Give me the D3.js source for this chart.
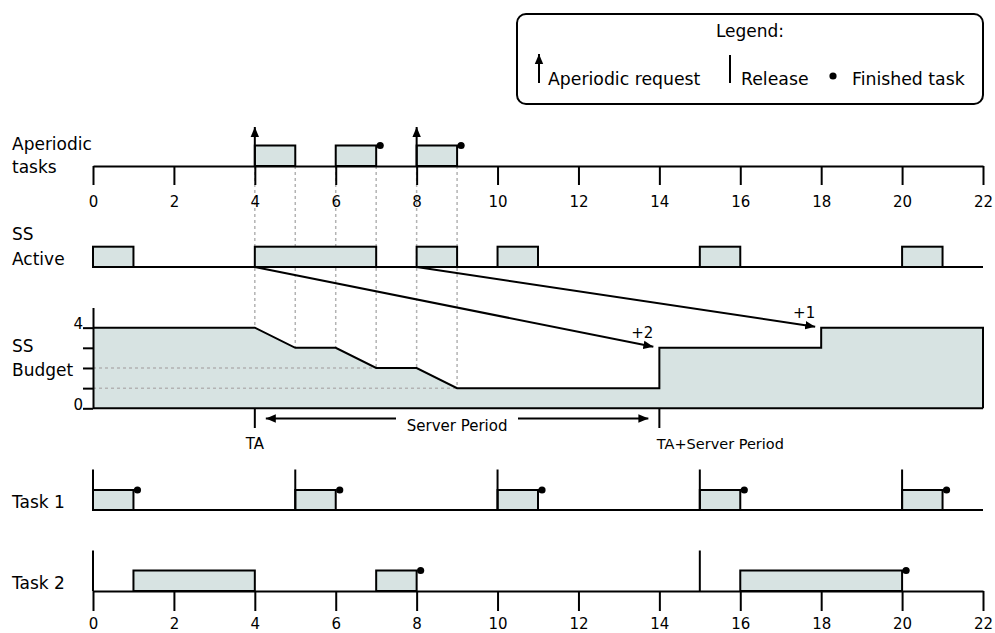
<!DOCTYPE html>
<html>
<head>
<meta charset="utf-8">
<script src="https://cdn.jsdelivr.net/npm/d3@7"></script>
<style>
  html, body { margin: 0; padding: 0; background: #fff; }
  svg { display: block; font-family: "DejaVu Sans", sans-serif; }
</style>
</head>
<body>
<svg id="chart" width="995" height="633"></svg>
<script>
// ---------------- DATA ----------------
const timeTicks = [0, 2, 4, 6, 8, 10, 12, 14, 16, 18, 20, 22];
const aperiodicJobs = [[4, 5], [6, 7], [8, 9]];
const aperiodicRequests = [4, 8];
const aperiodicFinished = [7, 9];
const ssActiveSlots = [[0, 1], [4, 7], [8, 9], [10, 11], [15, 16], [20, 21]];
const budgetTimes  = [0, 4, 5, 6, 7, 8, 9, 14, 14, 18, 18, 22];
const budgetValues = [4, 4, 3, 3, 2, 2, 1, 1, 3, 3, 4, 4];
const budgetTicks = [0, 1, 2, 3, 4];
const budgetTickLabels = ["0", "", "", "", "4"];
const dashedTimes = [4, 5, 6, 7, 8, 9];
const dashedLevels = [2, 1];          // horizontal guide levels
const dashedLevelEnds = [7, 9];       // time where each guide ends
const replenishFrom = [4, 8];
const replenishTo = [14, 18];
const replenishLevel = [3, 4];
const replenishLabels = ["+2", "+1"];
const task1Releases = [0, 5, 10, 15, 20];
const task1Jobs = [[0, 1], [5, 6], [10, 11], [15, 16], [20, 21]];
const task1Finished = [1, 6, 11, 16, 21];
const task2Releases = [0, 15];
const task2Jobs = [[1, 4], [7, 8], [16, 20]];
const task2Finished = [8, 20];
const periodStart = 4, periodEnd = 14;
const rowLabels = [
  ["Aperiodic", "tasks"], ["SS", "Active"], ["SS", "Budget"], ["Task 1"], ["Task 2"]
];
const legendItems = ["Aperiodic request", "Release", "Finished task"];

// ---------------- LAYOUT ----------------
const svg = d3.select("#chart");
const FILL = "#d7e3e2";
const SW = 2;
const x = d3.scaleLinear().domain([0, 22]).range([93, 983]);
const yB = d3.scaleLinear().domain([0, 5]).range([408.3, 307.5]);

const rows = {
  aper: { base: 166, top: 145.5 },
  ss:   { base: 267, top: 246.7 },
  t1:   { base: 510, top: 490 },
  t2:   { base: 591, top: 570.5 }
};

// markers
const defs = svg.append("defs");
defs.append("marker").attr("id", "arrow")
  .attr("viewBox", "0 -5 10 10").attr("refX", 10).attr("refY", 0)
  .attr("markerWidth", 10).attr("markerHeight", 10)
  .attr("markerUnits", "userSpaceOnUse").attr("orient", "auto")
  .append("path").attr("d", "M0,-4.2L10,0L0,4.2Z").attr("fill", "#000");

// ---------------- dashed guides ----------------
const gGuides = svg.append("g");
const budgetAt = t => budgetValues[budgetTimes.indexOf(t)];
gGuides.selectAll("line.v").data(dashedTimes).join("line")
  .attr("x1", d => x(d)).attr("x2", d => x(d))
  .attr("y1", rows.aper.base).attr("y2", d => yB(budgetAt(d)))
  .attr("stroke", "#b3b3b3").attr("stroke-width", 1.5).attr("stroke-dasharray", "3,3");

// ---------------- Aperiodic row ----------------
const gA = svg.append("g");
gA.selectAll("rect").data(aperiodicJobs).join("rect")
  .attr("x", d => x(d[0])).attr("y", rows.aper.top)
  .attr("width", d => x(d[1]) - x(d[0])).attr("height", rows.aper.base - rows.aper.top)
  .attr("fill", FILL).attr("stroke", "#000").attr("stroke-width", SW);
gA.append("g").attr("transform", `translate(0,${rows.aper.base})`)
  .call(d3.axisBottom(x).tickValues(timeTicks).tickFormat(d3.format("d"))
    .tickSize(19).tickSizeOuter(0).tickPadding(11))
  .call(g => g.selectAll("path,line").attr("stroke", "#000").attr("stroke-width", SW))
  .call(g => g.selectAll("text").attr("font-size", 15).attr("font-family", "DejaVu Sans").attr("fill", "#000"));
gA.selectAll("line.req").data(aperiodicRequests).join("line")
  .attr("x1", d => x(d)).attr("x2", d => x(d))
  .attr("y1", rows.aper.base).attr("y2", 127)
  .attr("stroke", "#000").attr("stroke-width", SW).attr("marker-end", "url(#arrow)");
gA.selectAll("circle").data(aperiodicFinished).join("circle")
  .attr("cx", d => x(d) + 4).attr("cy", rows.aper.top).attr("r", 3.6).attr("fill", "#000");

// ---------------- SS Active row ----------------
const gS = svg.append("g");
gS.selectAll("rect").data(ssActiveSlots).join("rect")
  .attr("x", d => x(d[0])).attr("y", rows.ss.top)
  .attr("width", d => x(d[1]) - x(d[0])).attr("height", rows.ss.base - rows.ss.top)
  .attr("fill", FILL).attr("stroke", "#000").attr("stroke-width", SW);
gS.append("line").attr("x1", x(0)).attr("x2", x(22))
  .attr("y1", rows.ss.base).attr("y2", rows.ss.base)
  .attr("stroke", "#000").attr("stroke-width", SW);

// ---------------- Budget ----------------
const gB = svg.append("g");
const bData = budgetTimes.map((t, i) => [t, budgetValues[i]]);
gB.append("path").datum(bData)
  .attr("d", d3.area().x(d => x(d[0])).y0(yB(0)).y1(d => yB(d[1])))
  .attr("fill", FILL);
gB.selectAll("line.h").data(dashedLevels).join("line")
  .attr("x1", x(0)).attr("x2", (d, i) => x(dashedLevelEnds[i]))
  .attr("y1", d => yB(d)).attr("y2", d => yB(d))
  .attr("stroke", "#b3b3b3").attr("stroke-width", 1.5).attr("stroke-dasharray", "3,3");
gB.append("path").datum(bData.concat([[22, 0]]))
  .attr("d", d3.line().x(d => x(d[0])).y(d => yB(d[1])))
  .attr("fill", "none").attr("stroke", "#000").attr("stroke-width", SW);
gB.append("line").attr("x1", x(0)).attr("x2", x(22))
  .attr("y1", yB(0)).attr("y2", yB(0)).attr("stroke", "#000").attr("stroke-width", SW);
gB.append("g").attr("transform", `translate(${x(0)},0)`)
  .call(d3.axisLeft(yB).tickValues(budgetTicks).tickFormat((d, i) => budgetTickLabels[i])
    .tickSize(10).tickSizeOuter(0).tickPadding(0))
  .call(g => g.selectAll("path,line").attr("stroke", "#000").attr("stroke-width", SW))
  .call(g => g.selectAll("text").attr("font-size", 15).attr("font-family", "DejaVu Sans")
    .attr("fill", "#000").attr("dy", "0.05em"));

// replenishment arrows
replenishFrom.forEach((f, i) => {
  const tx = x(replenishTo[i]) - 6, ty = yB(replenishLevel[i]) - 1;
  svg.append("line").attr("x1", x(f)).attr("y1", rows.ss.base).attr("x2", tx).attr("y2", ty)
    .attr("stroke", "#000").attr("stroke-width", SW).attr("marker-end", "url(#arrow)");
  svg.append("text").attr("x", tx - 11).attr("y", ty - 8.5)
    .attr("text-anchor", "middle").attr("font-size", 15).text(replenishLabels[i]);
});

// server period annotation
const gP = svg.append("g");
[periodStart, periodEnd].forEach(t => {
  gP.append("line").attr("x1", x(t)).attr("x2", x(t)).attr("y1", yB(0)).attr("y2", 428)
    .attr("stroke", "#000").attr("stroke-width", SW);
});
gP.append("line").attr("x1", 396).attr("x2", x(periodStart) + 11).attr("y1", 418.5).attr("y2", 418.5)
  .attr("stroke", "#000").attr("stroke-width", SW).attr("marker-end", "url(#arrow)");
gP.append("line").attr("x1", 518).attr("x2", x(periodEnd) - 11).attr("y1", 418.5).attr("y2", 418.5)
  .attr("stroke", "#000").attr("stroke-width", SW).attr("marker-end", "url(#arrow)");
gP.append("text").attr("x", (x(periodStart) + x(periodEnd)) / 2).attr("y", 431)
  .attr("text-anchor", "middle").attr("font-size", 15).text("Server Period");
gP.append("text").attr("x", x(periodStart)).attr("y", 449)
  .attr("text-anchor", "middle").attr("font-size", 15).text("TA");
gP.append("text").attr("x", x(periodEnd) + 61).attr("y", 449)
  .attr("text-anchor", "middle").attr("font-size", 14.5).text("TA+Server Period");

// ---------------- Task rows ----------------
function taskRow(row, releases, jobs, finished, withAxis) {
  const g = svg.append("g");
  g.selectAll("rect").data(jobs).join("rect")
    .attr("x", d => x(d[0])).attr("y", row.top)
    .attr("width", d => x(d[1]) - x(d[0])).attr("height", row.base - row.top)
    .attr("fill", FILL).attr("stroke", "#000").attr("stroke-width", SW);
  if (withAxis) {
    g.append("g").attr("transform", `translate(0,${row.base})`)
      .call(d3.axisBottom(x).tickValues(timeTicks).tickFormat(d3.format("d"))
        .tickSize(20).tickSizeOuter(0).tickPadding(7))
      .call(a => a.selectAll("path,line").attr("stroke", "#000").attr("stroke-width", SW))
      .call(a => a.selectAll("text").attr("font-size", 15).attr("font-family", "DejaVu Sans").attr("fill", "#000"));
  } else {
    g.append("line").attr("x1", x(0)).attr("x2", x(22)).attr("y1", row.base).attr("y2", row.base)
      .attr("stroke", "#000").attr("stroke-width", SW);
  }
  g.selectAll("line.rel").data(releases).join("line")
    .attr("x1", d => x(d)).attr("x2", d => x(d))
    .attr("y1", row.base).attr("y2", row.base - 40.5)
    .attr("stroke", "#000").attr("stroke-width", SW);
  g.selectAll("circle").data(finished).join("circle")
    .attr("cx", d => x(d) + 4).attr("cy", row.top).attr("r", 3.6).attr("fill", "#000");
}
taskRow(rows.t1, task1Releases, task1Jobs, task1Finished, false);
taskRow(rows.t2, task2Releases, task2Jobs, task2Finished, true);

// ---------------- Row labels ----------------
const labelPos = [[150, 173.3], [240, 265], [352, 376], [508.3], [589]];
rowLabels.forEach((lines, i) => {
  lines.forEach((s, j) => {
    svg.append("text").attr("x", 12).attr("y", labelPos[i][j])
      .attr("font-size", 17).attr("fill", "#000").text(s);
  });
});

// ---------------- Legend ----------------
const gL = svg.append("g");
gL.append("rect").attr("x", 517).attr("y", 14).attr("width", 466).attr("height", 90)
  .attr("rx", 9).attr("ry", 9).attr("fill", "#fff").attr("stroke", "#000").attr("stroke-width", SW);
gL.append("text").attr("x", 750).attr("y", 37).attr("text-anchor", "middle")
  .attr("font-size", 17).text("Legend:");
gL.append("line").attr("x1", 539).attr("x2", 539).attr("y1", 83).attr("y2", 54)
  .attr("stroke", "#000").attr("stroke-width", SW).attr("marker-end", "url(#arrow)");
gL.append("text").attr("x", 548).attr("y", 85).attr("font-size", 17.3).text(legendItems[0]);
gL.append("line").attr("x1", 730).attr("x2", 730).attr("y1", 83).attr("y2", 55)
  .attr("stroke", "#000").attr("stroke-width", SW);
gL.append("text").attr("x", 741).attr("y", 85).attr("font-size", 17.3).text(legendItems[1]);
gL.append("circle").attr("cx", 833).attr("cy", 76).attr("r", 3.6).attr("fill", "#000");
gL.append("text").attr("x", 852).attr("y", 85).attr("font-size", 17.3).text(legendItems[2]);
</script>
</body>
</html>
